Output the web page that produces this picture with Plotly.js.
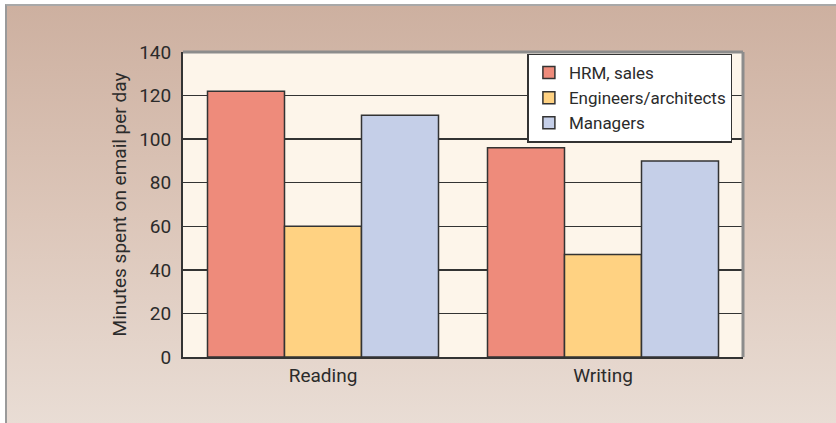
<!DOCTYPE html>
<html>
<head>
<meta charset="utf-8">
<script src="https://cdn.plot.ly/plotly-3.0.1.min.js"></script>
<style>
  html, body { margin: 0; padding: 0; background: #ffffff; }
  #wrap { position: relative; width: 836px; height: 423px; overflow: hidden; }
  #panel { position: absolute; left: 5px; top: 4px; width: 831px; height: 419px;
           border-left: 2px solid #9a9a9a; border-top: 2px solid #a8a8a8;
           background: linear-gradient(to bottom, #cdb0a0 0%, #dcc6b9 50%, #e9ddd5 100%); }
  #chart { position: absolute; left: 0; top: 0; width: 836px; height: 423px; }
</style>
</head>
<body>
<div id="wrap">
  <div id="panel"></div>
  <div id="chart"></div>
</div>
<script>
const categories = ["Reading", "Writing"];
const hrmSales = [122, 96];
const engineers = [60, 47];
const managers = [111, 90];
const seriesNames = ["HRM, sales", "Engineers/architects", "Managers"];
const yTicks = [0, 20, 40, 60, 80, 100, 120, 140];

const FONT = "'Roboto', 'Liberation Sans', sans-serif";
const colors = ["#ee8b7b", "#ffd282", "#c5cfe8"];
const vals = [hrmSales, engineers, managers];

const data = vals.map((v, i) => ({
  type: "bar",
  name: seriesNames[i],
  x: categories,
  y: v,
  marker: { color: colors[i], line: { color: "#333333", width: 1.5 } },
  hoverinfo: "skip"
}));

const layout = {
  width: 836, height: 423,
  margin: { l: 183, r: 93, t: 52, b: 66 },
  paper_bgcolor: "rgba(0,0,0,0)",
  plot_bgcolor: "#fdf5ea",
  barmode: "group",
  bargap: 0.175,
  bargroupgap: 0,
  font: { family: FONT, size: 19, color: "#2b2b2b" },
  showlegend: true,
  legend: {
    x: 0.615, y: 0.995, xanchor: "left", yanchor: "top",
    bgcolor: "#ffffff", bordercolor: "#333333", borderwidth: 1.5,
    font: { family: FONT, size: 17, color: "#2b2b2b" },
    tracegroupgap: 0, itemwidth: 30
  },
  xaxis: {
    showline: true, linecolor: "#333333", linewidth: 2,
    ticks: "", tickfont: { size: 19 }, showgrid: false, zeroline: false,
    fixedrange: true
  },
  yaxis: {
    range: [0, 140], tickvals: yTicks, ticktext: yTicks.map(String),
    showline: true, linecolor: "#333333", linewidth: 2,
    showgrid: true, gridcolor: "#333333", gridwidth: 1.3,
    zeroline: false, ticks: "", ticklabelstandoff: 6,
    tickfont: { size: 19 },
    title: { text: "Minutes spent on email per day", font: { size: 19 }, standoff: 8 },
    fixedrange: true
  },
  shapes: [
    { type: "line", xref: "paper", yref: "paper", x0: 0, x1: 1, y0: 1, y1: 1,
      line: { color: "#8c8c8c", width: 3 } },
    { type: "line", xref: "paper", yref: "paper", x0: 1, x1: 1, y0: 0, y1: 1,
      line: { color: "#8c8c8c", width: 3 } }
  ]
};

Plotly.newPlot("chart", data, layout, { displayModeBar: false, staticPlot: true });
</script>
</body>
</html>
